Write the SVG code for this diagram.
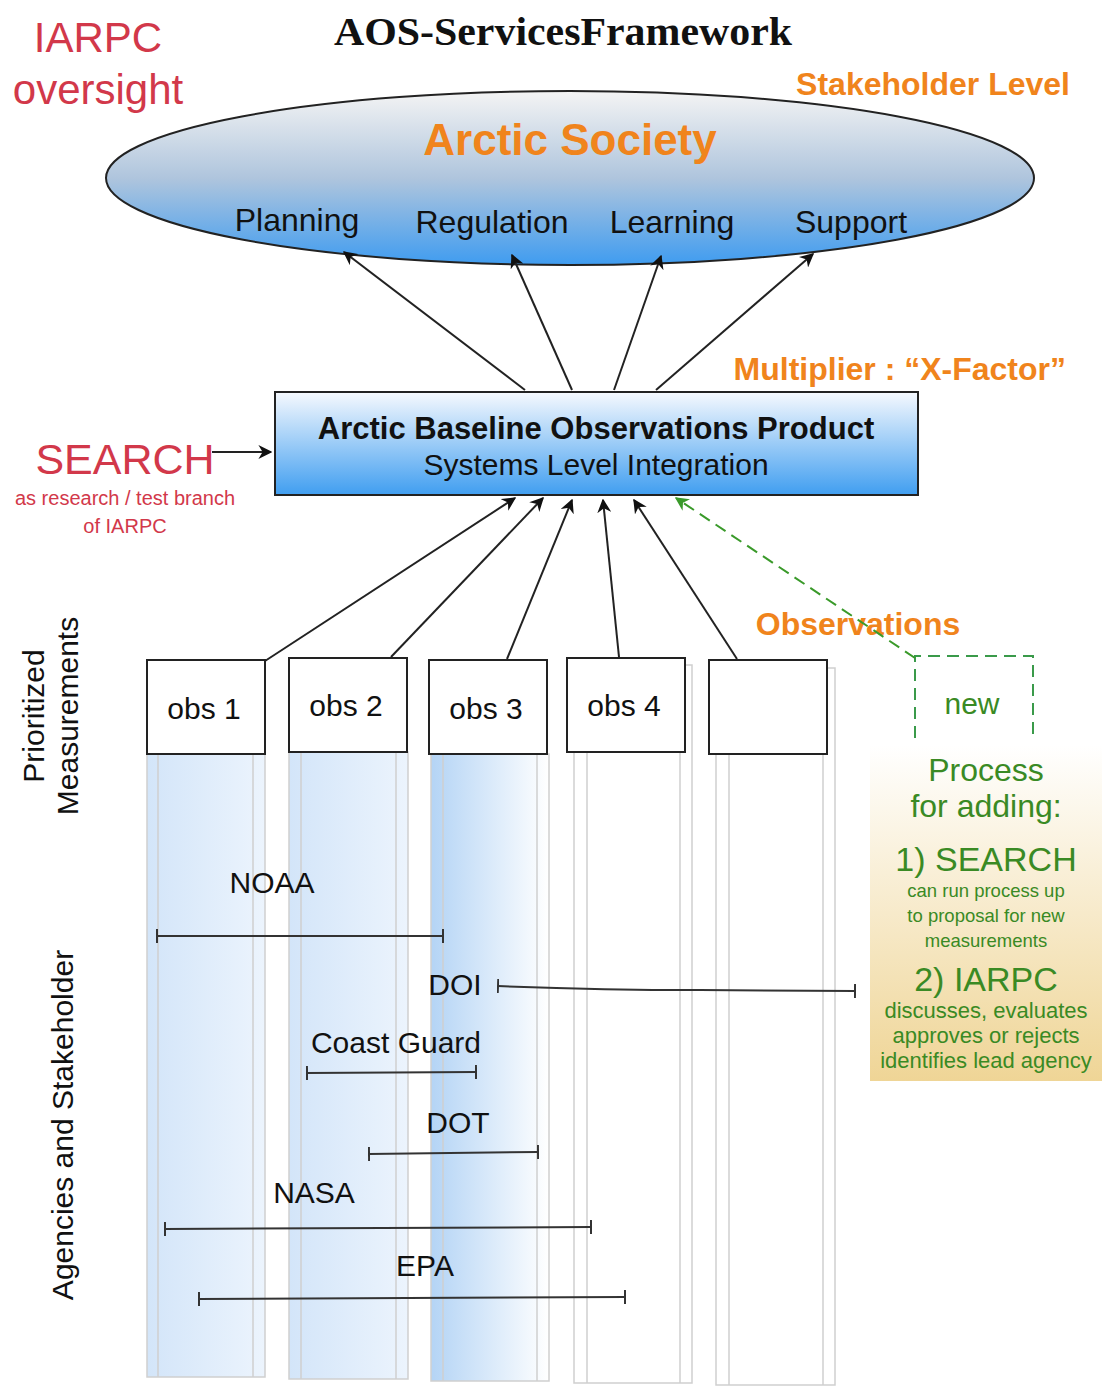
<svg xmlns="http://www.w3.org/2000/svg" width="1102" height="1389" viewBox="0 0 1102 1389">
<defs>
<linearGradient id="gEll" x1="0" y1="0" x2="0" y2="1">
<stop offset="0" stop-color="#f4f4f4"/>
<stop offset="0.5" stop-color="#afc5dd"/>
<stop offset="1" stop-color="#3f9cf0"/>
</linearGradient>
<linearGradient id="gBox" x1="0" y1="0" x2="0" y2="1">
<stop offset="0" stop-color="#f6f9fe"/>
<stop offset="1" stop-color="#409ef0"/>
</linearGradient>
<linearGradient id="gCol" x1="0" y1="0" x2="1" y2="0">
<stop offset="0" stop-color="#d3e5f9"/>
<stop offset="1" stop-color="#ecf4fd"/>
</linearGradient>
<linearGradient id="gCol3" x1="0" y1="0" x2="1" y2="0">
<stop offset="0" stop-color="#b4d4f5"/>
<stop offset="1" stop-color="#ffffff"/>
</linearGradient>
<linearGradient id="gProc" x1="0" y1="0" x2="0" y2="1">
<stop offset="0" stop-color="#ffffff"/>
<stop offset="1" stop-color="#efd596"/>
</linearGradient>
<marker id="ah" viewBox="0 0 10 10" refX="9" refY="5" markerWidth="14" markerHeight="14" markerUnits="userSpaceOnUse" orient="auto">
<path d="M0,0 L10,5 L0,10 L3,5 Z" fill="#111"/>
</marker>
<marker id="ahg" viewBox="0 0 10 10" refX="9" refY="5" markerWidth="14" markerHeight="14" markerUnits="userSpaceOnUse" orient="auto">
<path d="M0,0 L10,5 L0,10 L3,5 Z" fill="#3a9a2a"/>
</marker>
<marker id="tk" viewBox="0 0 2 14" refX="1" refY="7" markerWidth="2" markerHeight="14" markerUnits="userSpaceOnUse" orient="auto">
<rect x="0" y="0" width="2" height="14" fill="#333"/>
</marker>
</defs>
<style>
text{font-family:"Liberation Sans",Arial,sans-serif}
.red{fill:#d2384a}
.org{fill:#f0841c;font-weight:bold}
.grn{fill:#3a8a24;text-anchor:middle}
.blk{fill:#111}
.mid{text-anchor:middle}
.conn{stroke:#222;stroke-width:2;fill:none;marker-end:url(#ah)}
.bar{stroke:#333;stroke-width:2;fill:none;marker-start:url(#tk);marker-end:url(#tk)}
.obs{fill:#fff;stroke:#222;stroke-width:2}
.col{stroke:#cfcfcf;stroke-width:1.5}
.ln{stroke:#cfcfcf;stroke-width:1.5}
</style>
<rect width="1102" height="1389" fill="#fff"/>

<text x="563" y="45" class="mid" style="font-family:'Liberation Serif','Times New Roman',serif;font-weight:bold;font-size:40px" fill="#111" textLength="458" lengthAdjust="spacingAndGlyphs">AOS-ServicesFramework</text>
<g id="iarpc-label">
<text x="98" y="52" class="red mid" font-size="42">IARPC</text>
<text x="98" y="104" class="red mid" font-size="42">oversight</text>
</g>
<text x="1070" y="95" class="org" font-size="32" text-anchor="end">Stakeholder Level</text>

<g id="arctic-society">
<ellipse cx="570" cy="178" rx="464" ry="87" fill="url(#gEll)" stroke="#222" stroke-width="2"/>
<text x="570" y="155" class="org mid" font-size="44">Arctic Society</text>
<text x="297" y="231" class="blk mid" font-size="32">Planning</text>
<text x="492" y="233" class="blk mid" font-size="32">Regulation</text>
<text x="672" y="233" class="blk mid" font-size="32">Learning</text>
<text x="851" y="233" class="blk mid" font-size="32">Support</text>
</g>

<text x="1066" y="380" class="org" font-size="32" text-anchor="end">Multiplier : “X-Factor”</text>

<g id="columns">
<rect x="147" y="754" width="118" height="623" fill="url(#gCol)" class="col"/>
<line x1="158" y1="754" x2="158" y2="1377" class="ln"/>
<line x1="253" y1="754" x2="253" y2="1377" class="ln"/>
<rect x="289" y="752" width="119" height="627" fill="url(#gCol)" class="col"/>
<line x1="301" y1="752" x2="301" y2="1379" class="ln"/>
<line x1="396" y1="752" x2="396" y2="1379" class="ln"/>
<rect x="431" y="754" width="118" height="627" fill="url(#gCol3)" class="col"/>
<line x1="443" y1="754" x2="443" y2="1381" class="ln"/>
<line x1="537" y1="754" x2="537" y2="1381" class="ln"/>
<rect x="574" y="665" width="118" height="718" fill="#fff" class="col"/>
<line x1="587" y1="752" x2="587" y2="1383" class="ln"/>
<line x1="680" y1="752" x2="680" y2="1383" class="ln"/>
<rect x="716" y="668" width="119" height="717" fill="#fff" class="col"/>
<line x1="729" y1="754" x2="729" y2="1385" class="ln"/>
<line x1="823" y1="754" x2="823" y2="1385" class="ln"/>
</g>

<g id="process">
<rect x="870" y="745" width="232" height="336" fill="url(#gProc)"/>
<text x="986" y="781" class="grn" font-size="32">Process</text>
<text x="986" y="817" class="grn" font-size="32">for adding:</text>
<text x="986" y="871" class="grn" font-size="34">1) SEARCH</text>
<text x="986" y="897" class="grn" font-size="18.5">can run process up</text>
<text x="986" y="922" class="grn" font-size="18.5">to proposal for new</text>
<text x="986" y="947" class="grn" font-size="18.5">measurements</text>
<text x="986" y="991" class="grn" font-size="34">2) IARPC</text>
<text x="986" y="1018" class="grn" font-size="22">discusses, evaluates</text>
<text x="986" y="1043" class="grn" font-size="22">approves or rejects</text>
<text x="986" y="1068" class="grn" font-size="22">identifies lead agency</text>
</g>

<g id="new-obs">
<path d="M915,738 L915,656 L1033,656 L1033,738" fill="none" stroke="#3a9a4a" stroke-width="2" stroke-dasharray="12,7"/>
<text x="972" y="714" class="grn" font-size="30">new</text>
</g>

<g id="abop">
<rect x="275" y="392" width="643" height="103" fill="url(#gBox)" stroke="#222" stroke-width="2"/>
<text x="596" y="439" class="blk mid" font-size="31" font-weight="bold">Arctic Baseline Observations Product</text>
<text x="596" y="475" class="blk mid" font-size="30">Systems Level Integration</text>
</g>

<g id="search">
<text x="125" y="474" class="red mid" font-size="43">SEARCH</text>
<text x="125" y="505" class="red mid" font-size="20">as research / test branch</text>
<text x="125" y="533" class="red mid" font-size="20">of IARPC</text>
</g>

<text x="858" y="635" class="org mid" font-size="32">Observations</text>

<g id="obs1"><rect x="147" y="660" width="118" height="94" class="obs"/><text x="204" y="719" class="blk mid" font-size="30">obs 1</text></g>
<g id="obs2"><rect x="289" y="658" width="118" height="94" class="obs"/><text x="346" y="716" class="blk mid" font-size="30">obs 2</text></g>
<g id="obs3"><rect x="429" y="660" width="118" height="94" class="obs"/><text x="486" y="719" class="blk mid" font-size="30">obs 3</text></g>
<g id="obs4"><rect x="567" y="658" width="118" height="94" class="obs"/><text x="624" y="716" class="blk mid" font-size="30">obs 4</text></g>
<g id="obs5"><rect x="709" y="660" width="118" height="94" class="obs"/></g>

<g id="side-labels">
<text transform="translate(44,716) rotate(-90)" class="blk mid" font-size="30">Prioritized</text>
<text transform="translate(78,716) rotate(-90)" class="blk mid" font-size="30">Measurements</text>
<text transform="translate(73,1125) rotate(-90)" class="blk mid" font-size="30">Agencies and Stakeholder</text>
</g>

<g id="agencies">
<text x="272" y="893" class="blk mid" font-size="30">NOAA</text>
<line x1="157" y1="936" x2="443" y2="936" class="bar"/>
<text x="455" y="995" class="blk mid" font-size="30">DOI</text>
<path d="M498,986 Q600,990 700,990 L855,991" class="bar"/>
<text x="396" y="1053" class="blk mid" font-size="30">Coast Guard</text>
<line x1="307" y1="1073" x2="476" y2="1072" class="bar"/>
<text x="458" y="1133" class="blk mid" font-size="30">DOT</text>
<line x1="369" y1="1154" x2="538" y2="1152" class="bar"/>
<text x="314" y="1203" class="blk mid" font-size="30">NASA</text>
<line x1="165" y1="1229" x2="591" y2="1227" class="bar"/>
<text x="425" y="1276" class="blk mid" font-size="30">EPA</text>
<line x1="199" y1="1299" x2="625" y2="1297" class="bar"/>
</g>

<g id="connectors">
<line x1="525" y1="390" x2="344" y2="252" class="conn"/>
<line x1="572" y1="390" x2="512" y2="255" class="conn"/>
<line x1="614" y1="390" x2="661" y2="256" class="conn"/>
<line x1="656" y1="390" x2="813" y2="254" class="conn"/>
<line x1="212" y1="452" x2="271" y2="452" class="conn"/>
<line x1="265" y1="661" x2="515" y2="498" class="conn"/>
<line x1="391" y1="657" x2="543" y2="498" class="conn"/>
<line x1="507" y1="659" x2="572" y2="500" class="conn"/>
<line x1="619" y1="657" x2="603" y2="500" class="conn"/>
<line x1="737" y1="659" x2="634" y2="500" class="conn"/>
<line x1="915" y1="658" x2="676" y2="498" stroke="#3a9a2a" stroke-width="2" stroke-dasharray="12,7" fill="none" marker-end="url(#ahg)"/>
</g>
</svg>
